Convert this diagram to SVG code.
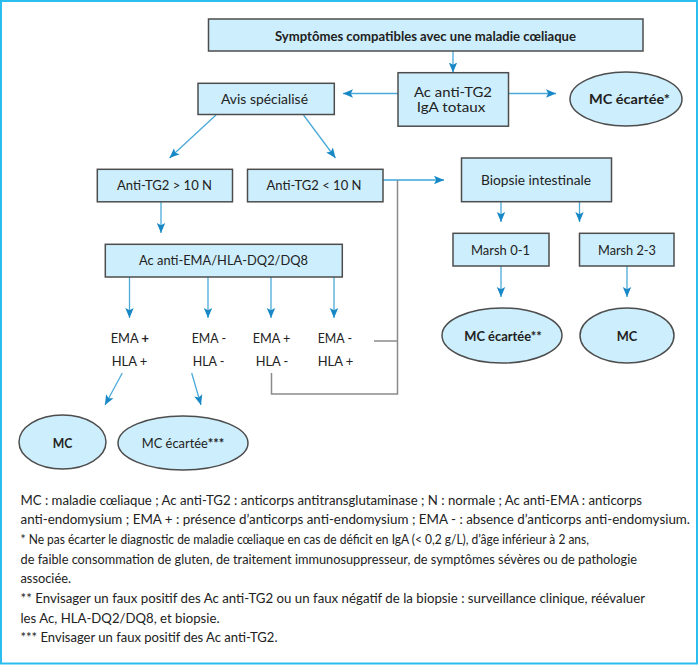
<svg xmlns="http://www.w3.org/2000/svg" width="700" height="665" viewBox="0 0 700 665">
<style>
text{font-family:Lato,"Open Sans","Liberation Sans",sans-serif;font-size:13px;fill:#222}
.b{font-weight:bold}
.box{fill:#cdeefc;stroke:#4d4d4d;stroke-width:1.5}
.arr{fill:none;stroke:#4aaad8;stroke-width:1.3;marker-end:url(#ah)}
.gray{fill:none;stroke:#8a8a8a;stroke-width:1.5}
.leg{font-size:12.5px}
</style>
<defs>
<marker id="ah" markerUnits="userSpaceOnUse" markerWidth="10" markerHeight="10" viewBox="0 0 10 10" refX="10" refY="5" orient="auto">
<path d="M0,0.8 L10,5 L0,9.2 L2.2,5 z" fill="#1787c6"/>
</marker>
</defs>
<rect x="1" y="1" width="696" height="662.5" fill="#fff" stroke="#2bbdee" stroke-width="2"/>

<g id="connectors">
<path class="arr" d="M453,51 V72.5"/>
<path class="arr" d="M398,93.5 H343"/>
<path class="arr" d="M508.5,93.5 H556"/>
<path class="arr" d="M216,115 L169.5,158"/>
<path class="arr" d="M303.5,115 L335.5,158"/>
<path class="arr" d="M383,180 H444" style="stroke-width:1.8;stroke:#6cbde3"/>
<path class="arr" d="M161,202 V233"/>
<path class="arr" d="M501,202 V222"/>
<path class="arr" d="M579.5,202 V222"/>
<path class="arr" d="M501,266 V297"/>
<path class="arr" d="M627,266 V297"/>
<path class="arr" d="M129.5,277 V318"/>
<path class="arr" d="M208,277 V318"/>
<path class="arr" d="M271,277 V318"/>
<path class="arr" d="M334,277 V318"/>
<path class="arr" d="M122.3,373 L105,405"/>
<path class="arr" d="M191.7,373 L201,405"/>
<path class="gray" d="M397.5,180 V394 H271.5 V373"/>
<path class="gray" d="M374,341 H397.5"/>
</g>

<g id="n-symptomes">
<rect class="box" x="208.5" y="19" width="434.5" height="32"/>
<text class="b" x="425.5" y="40.5" text-anchor="middle" textLength="301" lengthAdjust="spacingAndGlyphs">Symptômes compatibles avec une maladie cœliaque</text>
</g>
<g id="n-actg2">
<rect class="box" x="398" y="72.7" width="110.5" height="53.5"/>
<text x="453" y="97" text-anchor="middle" textLength="78" lengthAdjust="spacingAndGlyphs">Ac anti-TG2</text>
<text x="451" y="111.7" text-anchor="middle" textLength="68.5" lengthAdjust="spacingAndGlyphs">IgA totaux</text>
</g>
<g id="n-avis">
<rect class="box" x="198" y="83.3" width="136.3" height="31.2"/>
<text x="264.5" y="103.5" text-anchor="middle" textLength="87" lengthAdjust="spacingAndGlyphs">Avis spécialisé</text>
</g>
<g id="n-mc1">
<ellipse class="box" cx="626" cy="99" rx="56" ry="27"/>
<text class="b" x="629.5" y="103.5" text-anchor="middle" textLength="81" lengthAdjust="spacingAndGlyphs">MC écartée*</text>
</g>
<g id="n-sup10">
<rect class="box" x="97.3" y="169.3" width="135.2" height="32.5"/>
<text x="164.5" y="189.5" text-anchor="middle" textLength="95" lengthAdjust="spacingAndGlyphs">Anti-TG2 &gt; 10 N</text>
</g>
<g id="n-inf10">
<rect class="box" x="247.5" y="169.3" width="135.5" height="32.5"/>
<text x="314" y="189.5" text-anchor="middle" textLength="95" lengthAdjust="spacingAndGlyphs">Anti-TG2 &lt; 10 N</text>
</g>
<g id="n-biopsie">
<rect class="box" x="461.5" y="158" width="150" height="43.7"/>
<text x="536" y="184.5" text-anchor="middle" textLength="110" lengthAdjust="spacingAndGlyphs">Biopsie intestinale</text>
</g>
<g id="n-ema">
<rect class="box" x="105.3" y="244.3" width="237" height="32.7"/>
<text x="223.5" y="265" text-anchor="middle" textLength="169" lengthAdjust="spacingAndGlyphs">Ac anti-EMA/HLA-DQ2/DQ8</text>
</g>
<g id="n-marsh01">
<rect class="box" x="453" y="233.3" width="96" height="32.7"/>
<text x="500.5" y="254.5" text-anchor="middle" textLength="59" lengthAdjust="spacingAndGlyphs">Marsh 0-1</text>
</g>
<g id="n-marsh23">
<rect class="box" x="579.5" y="233.3" width="94.5" height="32.7"/>
<text x="627" y="254.5" text-anchor="middle" textLength="58" lengthAdjust="spacingAndGlyphs">Marsh 2-3</text>
</g>
<g id="n-mc2">
<ellipse class="box" cx="502" cy="335.5" rx="60" ry="27.5"/>
<text class="b" x="503" y="340.5" text-anchor="middle" textLength="77.5" lengthAdjust="spacingAndGlyphs">MC écartée**</text>
</g>
<g id="n-mc3">
<ellipse class="box" cx="627" cy="335.5" rx="47" ry="27.5"/>
<text class="b" x="627" y="340.5" text-anchor="middle" textLength="20.5" lengthAdjust="spacingAndGlyphs">MC</text>
</g>
<g id="n-r1">
<text x="110.7" y="342.7" textLength="38.3" lengthAdjust="spacingAndGlyphs">EMA <tspan class="b">+</tspan></text>
<text x="111.7" y="365.7" textLength="35.7" lengthAdjust="spacingAndGlyphs">HLA +</text>
</g>
<g id="n-r2">
<text x="191.7" y="342.7" textLength="34.3" lengthAdjust="spacingAndGlyphs">EMA -</text>
<text x="192.7" y="365.7" textLength="31.7" lengthAdjust="spacingAndGlyphs">HLA -</text>
</g>
<g id="n-r3">
<text x="252.7" y="342.7" textLength="37.7" lengthAdjust="spacingAndGlyphs">EMA +</text>
<text x="255.7" y="365.7" textLength="32.7" lengthAdjust="spacingAndGlyphs">HLA -</text>
</g>
<g id="n-r4">
<text x="317.7" y="342.7" textLength="34.3" lengthAdjust="spacingAndGlyphs">EMA -</text>
<text x="317.7" y="365.7" textLength="35.7" lengthAdjust="spacingAndGlyphs">HLA +</text>
</g>
<g id="n-mc4">
<ellipse class="box" cx="62.5" cy="442" rx="43.5" ry="27"/>
<text class="b" x="62.5" y="447.5" text-anchor="middle" textLength="19.6" lengthAdjust="spacingAndGlyphs">MC</text>
</g>
<g id="n-mc5">
<ellipse class="box" cx="183" cy="443" rx="65" ry="27"/>
<text x="183" y="447.5" text-anchor="middle" textLength="82.5" lengthAdjust="spacingAndGlyphs">MC écartée<tspan class="b">***</tspan></text>
</g>

<g id="legend">
<text class="leg" x="20.5" y="504.5" textLength="621.5" lengthAdjust="spacingAndGlyphs">MC : maladie cœliaque ; Ac anti-TG2 : anticorps antitransglutaminase ; N : normale ; Ac anti-EMA : anticorps</text>
<text class="leg" x="20.5" y="524.2" textLength="669.5" lengthAdjust="spacingAndGlyphs">anti-endomysium ; EMA + : présence d’anticorps anti-endomysium ; EMA - : absence d’anticorps anti-endomysium.</text>
<text class="leg" x="20.5" y="543.9" textLength="568.5" lengthAdjust="spacingAndGlyphs">* Ne pas écarter le diagnostic de maladie cœliaque en cas de déficit en IgA (&lt; 0,2 g/L), d’âge inférieur à 2 ans,</text>
<text class="leg" x="20.5" y="563.6" textLength="616.5" lengthAdjust="spacingAndGlyphs">de faible consommation de gluten, de traitement immunosuppresseur, de symptômes sévères ou de pathologie</text>
<text class="leg" x="20.5" y="583.3" textLength="50.5" lengthAdjust="spacingAndGlyphs">associée.</text>
<text class="leg" x="20.5" y="603" textLength="624.5" lengthAdjust="spacingAndGlyphs">** Envisager un faux positif des Ac anti-TG2 ou un faux négatif de la biopsie : surveillance clinique, réévaluer</text>
<text class="leg" x="20.5" y="622.7" textLength="199" lengthAdjust="spacingAndGlyphs">les Ac, HLA-DQ2/DQ8, et biopsie.</text>
<text class="leg" x="20.5" y="642.4" textLength="257" lengthAdjust="spacingAndGlyphs">*** Envisager un faux positif des Ac anti-TG2.</text>
</g>
</svg>
